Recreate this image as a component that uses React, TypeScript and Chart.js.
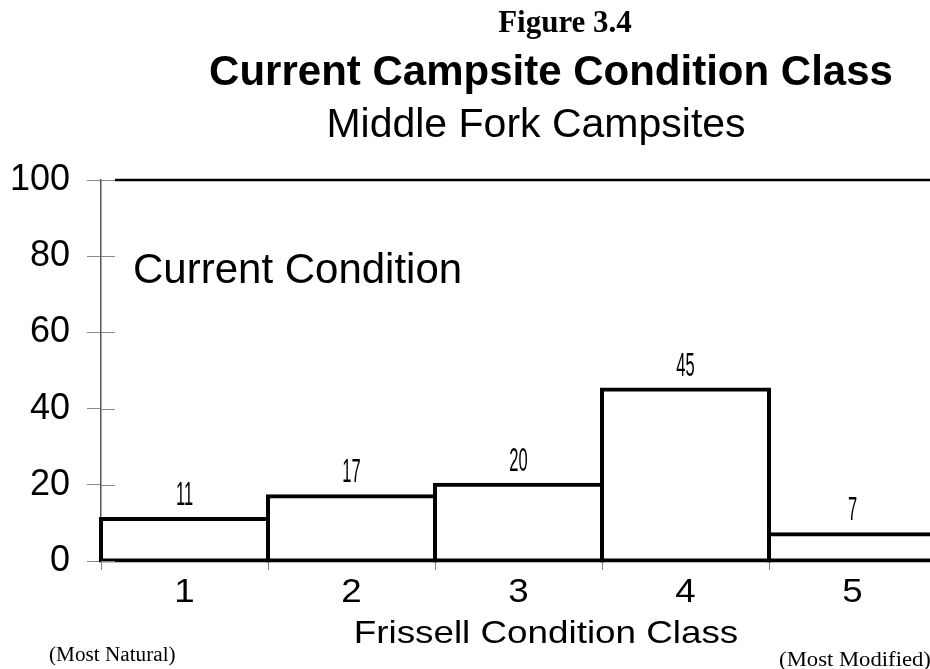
import React, { useEffect, useRef } from "react";
import { Chart, registerables } from "chart.js";

Chart.register(...registerables);

const figureLabel = "Figure 3.4";
const chartTitle = "Current Campsite Condition Class";
const chartSubtitle = "Middle Fork Campsites";
const categories = ["1", "2", "3", "4", "5"];
const values = [11, 17, 20, 45, 7];
const yMin = 0;
const yMax = 100;
const yStep = 20;
const insideLabel = "Current Condition";
const xTitle = "Frissell Condition Class";
const leftNote = "(Most Natural)";
const rightNote = "(Most Modified)";

const SANS = "'Liberation Sans', Arial, sans-serif";
const SERIF = "'Liberation Serif', 'Times New Roman', serif";

function drawText(
  ctx: CanvasRenderingContext2D,
  s: string,
  x: number,
  y: number,
  font: string,
  align: CanvasTextAlign,
  sx = 1
) {
  ctx.save();
  ctx.font = font;
  ctx.textAlign = align;
  ctx.textBaseline = "alphabetic";
  ctx.fillStyle = "#000";
  ctx.translate(x, y);
  ctx.scale(sx, 1);
  ctx.fillText(s, 0, 0);
  ctx.restore();
}

const decorPlugin = {
  id: "decor",
  afterDraw(chart: any) {
    const ctx: CanvasRenderingContext2D = chart.ctx;
    const area = chart.chartArea;
    const xs = chart.scales.x;
    const ys = chart.scales.y;

    // inner halves of y ticks
    ctx.save();
    ctx.strokeStyle = "#888";
    ctx.lineWidth = 1;
    ys.ticks.forEach((t: any) => {
      const py = Math.round(ys.getPixelForValue(t.value)) + 0.5;
      ctx.beginPath();
      ctx.moveTo(area.left, py);
      ctx.lineTo(area.left + 14, py);
      ctx.stroke();
    });
    ctx.restore();

    // top frame line
    ctx.save();
    ctx.strokeStyle = "#000";
    ctx.lineWidth = 2.5;
    ctx.beginPath();
    ctx.moveTo(area.left + 14, area.top);
    ctx.lineTo(area.right, area.top);
    ctx.stroke();
    ctx.restore();

    // value labels
    const meta = chart.getDatasetMeta(0);
    meta.data.forEach((bar: any, i: number) => {
      drawText(ctx, String(values[i]), bar.x, bar.y - 14, `33px ${SANS}`, "center", 0.5);
    });

    // x tick labels
    categories.forEach((c, i) => {
      drawText(ctx, c, xs.getPixelForValue(i), 602, `34px ${SANS}`, "center", 1.08);
    });

    // inner label
    drawText(ctx, insideLabel, area.left + 32, area.top + 103, `42px ${SANS}`, "left");

    // titles
    drawText(ctx, figureLabel, 565, 32, `bold 31px ${SERIF}`, "center");
    drawText(ctx, chartTitle, 551, 85, `bold 42px ${SANS}`, "center");
    drawText(ctx, chartSubtitle, 536, 137, `41px ${SANS}`, "center");

    // x title and notes
    drawText(ctx, xTitle, 546, 643, `32px ${SANS}`, "center", 1.15);
    drawText(ctx, leftNote, 49, 661, `20px ${SERIF}`, "left", 1.06);
    drawText(ctx, rightNote, 855, 666, `21px ${SERIF}`, "center", 1.08);
  },
};

export default function App() {
  const ref = useRef<HTMLCanvasElement>(null);

  useEffect(() => {
    if (!ref.current) return;
    const chart = new Chart(ref.current, {
      type: "bar",
      data: {
        labels: categories,
        datasets: [
          {
            data: values,
            backgroundColor: "#ffffff",
            borderColor: "#000000",
            borderWidth: 4,
            borderSkipped: false,
            inflateAmount: 2,
            barPercentage: 1,
            categoryPercentage: 1,
            clip: false,
          } as any,
        ],
      },
      options: {
        responsive: false,
        animation: false,
        devicePixelRatio: 1,
        layout: { padding: { top: 180, left: 0, right: 24, bottom: 0 } },
        plugins: {
          legend: { display: false },
          title: { display: false },
          tooltip: { enabled: false },
        },
        scales: {
          x: {
            type: "category",
            offset: true,
            grid: {
              offset: true,
              drawOnChartArea: false,
              drawTicks: true,
              tickLength: 9,
              color: "#888",
              lineWidth: 1,
            },
            border: { display: false },
            ticks: { display: false },
            afterFit: (s: any) => {
              s.height = 108;
            },
          },
          y: {
            min: yMin,
            max: yMax,
            ticks: {
              stepSize: yStep,
              color: "#000",
              font: { size: 36, family: SANS },
              padding: 17,
            },
            grid: {
              drawOnChartArea: false,
              drawTicks: true,
              tickLength: 14,
              color: "#888",
              lineWidth: 1,
            },
            border: { display: true, color: "#555", width: 1.5 },
            afterFit: (s: any) => {
              s.width = 101;
            },
          },
        },
      } as any,
      plugins: [decorPlugin],
    });
    return () => chart.destroy();
  }, []);

  return (
    <div
      style={{
        position: "fixed",
        left: 0,
        top: 0,
        width: 930,
        height: 669,
        overflow: "hidden",
        background: "#fff",
      }}
    >
      <canvas
        ref={ref}
        width={960}
        height={669}
        style={{ display: "block", width: 960, height: 669 }}
      />
    </div>
  );
}
